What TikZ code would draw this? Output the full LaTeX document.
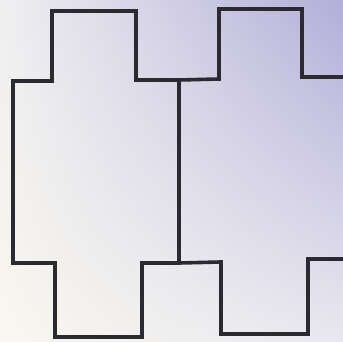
\documentclass[tikz,border=0pt]{standalone}
\usetikzlibrary{positioning, shadings}
\definecolor{Ink}{HTML}{2B2A30}
\definecolor{PaperUL}{HTML}{F0EFF0}
\definecolor{PaperUR}{HTML}{B2AED9}
\definecolor{PaperLL}{HTML}{F8F7EF}
\definecolor{PaperLR}{HTML}{E9E8EF}
\tikzset{
    outline/.style={draw=Ink, line width=3.6pt, line join=miter, line cap=rect},
}
\begin{document}
\begin{tikzpicture}[x=1pt, y=-1pt]
    % Sfondo (carta)
    \shade[upper left=PaperUL, upper right=PaperUR, lower left=PaperLL, lower right=PaperLR] (0,0) rectangle (343,342);
    \useasboundingbox (0,0) rectangle (343,342);

    % Croce sinistra
    \draw[outline] (52,11) -- (136,11) -- (136,80) -- (179,80) -- (179,263) -- (142,263)
        -- (142,337) -- (55,337) -- (55,263) -- (13,263) -- (13,81) -- (52,81) -- cycle;

    % Croce destra (tagliata a destra)
    \draw[outline] (179,80) -- (219,79) -- (219,9) -- (302,9) -- (302,77) -- (346,77);
    \draw[outline] (179,263) -- (221,262) -- (221,334) -- (308,334) -- (308,259) -- (346,259);
\end{tikzpicture}
\end{document}
